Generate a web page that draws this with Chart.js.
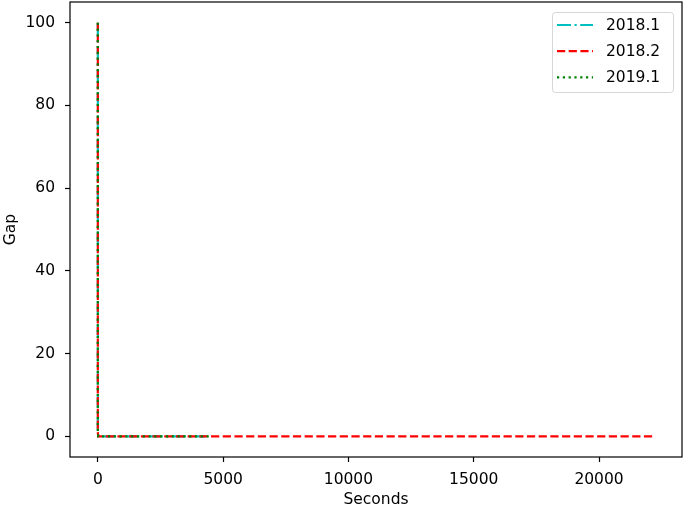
<!DOCTYPE html>
<html>
<head>
<meta charset="utf-8">
<script src="https://cdn.jsdelivr.net/npm/chart.js@4/dist/chart.umd.min.js"></script>
<style>
  html, body { margin: 0; padding: 0; background: #fff; }
  #wrap { width: 685px; height: 508px; }
</style>
</head>
<body>
<div id="wrap"><canvas id="gap_chart" width="685" height="508"></canvas></div>
<script>
// gap vs seconds, one line per version
const labels = ['2018.1', '2018.2', '2019.1'];
const colors = ['#00bfbf', '#ff0000', '#008000'];
const dashes = [[14, 3.5, 2.2, 3.5], [8.2, 3.5], [2.2, 3.6]];

const seconds2018_1 = [0, 0, 15, 4300];
const gap2018_1 = [100, 1, 0, 0];
const seconds2018_2 = [0, 0, 15, 22150];
const gap2018_2 = [100, 1, 0, 0];
const seconds2019_1 = [0, 0, 15, 4450];
const gap2019_1 = [100, 1, 0, 0];

const xTicks = [0, 5000, 10000, 15000, 20000];
const yTicks = [0, 20, 40, 60, 80, 100];

const FONT = 'DejaVu Sans';
const FS = 15.5;
const LW = 2.2;

function pts(xs, ys) {
    return xs.map((x, i) => ({ x: x, y: ys[i] }));
}

let series = [
    pts(seconds2018_1, gap2018_1),
    pts(seconds2018_2, gap2018_2),
    pts(seconds2019_1, gap2019_1)
];

let datasets = series.map((d, i) => ({
    label: labels[i],
    data: d,
    showLine: true,
    order: labels.length - i,   // later series on top, like matplotlib
    borderColor: colors[i],
    backgroundColor: colors[i],
    borderWidth: LW,
    borderDash: dashes[i],
    pointRadius: 0,
    tension: 0,
    fill: false
}));

// frame round the plot area (matplotlib spines)
const framePlugin = {
    id: 'frame',
    afterDatasetsDraw(chart) {
        let a = chart.chartArea;
        let ctx = chart.ctx;
        ctx.save();
        ctx.strokeStyle = '#000';
        ctx.lineWidth = 1.2;
        ctx.strokeRect(a.left, a.top, a.right - a.left, a.bottom - a.top);
        ctx.restore();
    }
};

// legend box in the upper right corner
const legendPlugin = {
    id: 'boxLegend',
    afterDraw(chart) {
        let ctx = chart.ctx;
        let x0 = 552, y0 = 12, w = 121, h = 80;
        ctx.save();
        ctx.globalAlpha = 0.8;
        ctx.fillStyle = '#fff';
        ctx.strokeStyle = '#cccccc';
        ctx.lineWidth = 1;
        ctx.beginPath();
        ctx.roundRect(x0 + 0.5, y0 + 0.5, w, h, 3);
        ctx.fill();
        ctx.stroke();
        ctx.globalAlpha = 1;
        ctx.font = FS + 'px "' + FONT + '"';
        ctx.textBaseline = 'middle';
        ctx.fillStyle = '#000';
        labels.forEach((lab, i) => {
            let y = 25 + i * 26.2;
            ctx.strokeStyle = colors[i];
            ctx.lineWidth = LW;
            ctx.setLineDash(dashes[i]);
            ctx.beginPath();
            ctx.moveTo(557, y);
            ctx.lineTo(593, y);
            ctx.stroke();
            ctx.setLineDash([]);
            ctx.fillText(lab, 606, y + 1);
        });
        ctx.restore();
    }
};

let ctx = document.getElementById('gap_chart');

let gapChart = new Chart(ctx, {
    type: 'scatter',
    data: { datasets: datasets },
    options: {
        responsive: false,
        animation: false,
        events: [],
        layout: { padding: { left: 0, right: 3, top: 2, bottom: 0 } },
        plugins: {
            legend: { display: false },
            tooltip: { enabled: false }
        },
        scales: {
            x: {
                type: 'linear',
                min: -1110,
                max: 23310,
                afterBuildTicks(scale) {
                    scale.ticks = xTicks.map(v => ({ value: v }));
                },
                afterFit(scale) {
                    scale.height = 51;
                    scale.paddingLeft = 0;
                    scale.paddingRight = 0;
                },
                border: { display: false },
                grid: {
                    drawOnChartArea: false,
                    drawTicks: true,
                    tickLength: 5,
                    tickWidth: 1.2,
                    tickColor: '#000'
                },
                ticks: {
                    color: '#000',
                    padding: 9,
                    maxRotation: 0,
                    callback: v => String(v),
                    font: { family: FONT, size: FS }
                },
                title: {
                    display: true,
                    text: 'Seconds',
                    color: '#000',
                    padding: { top: 3, bottom: 0 },
                    font: { family: FONT, size: FS, lineHeight: 1 }
                }
            },
            y: {
                type: 'linear',
                min: -5,
                max: 105,
                afterBuildTicks(scale) {
                    scale.ticks = yTicks.map(v => ({ value: v }));
                },
                afterFit(scale) {
                    scale.width = 70;
                    scale.paddingTop = 0;
                    scale.paddingBottom = 0;
                },
                border: { display: false },
                grid: {
                    drawOnChartArea: false,
                    drawTicks: true,
                    tickLength: 5,
                    tickWidth: 1.2,
                    tickColor: '#000'
                },
                ticks: {
                    color: '#000',
                    padding: 10,
                    callback: v => String(v),
                    font: { family: FONT, size: FS }
                },
                title: {
                    display: true,
                    text: 'Gap',
                    color: '#000',
                    padding: { top: 2, bottom: 0 },
                    font: { family: FONT, size: FS }
                }
            }
        }
    },
    plugins: [framePlugin, legendPlugin]
});
</script>
</body>
</html>
